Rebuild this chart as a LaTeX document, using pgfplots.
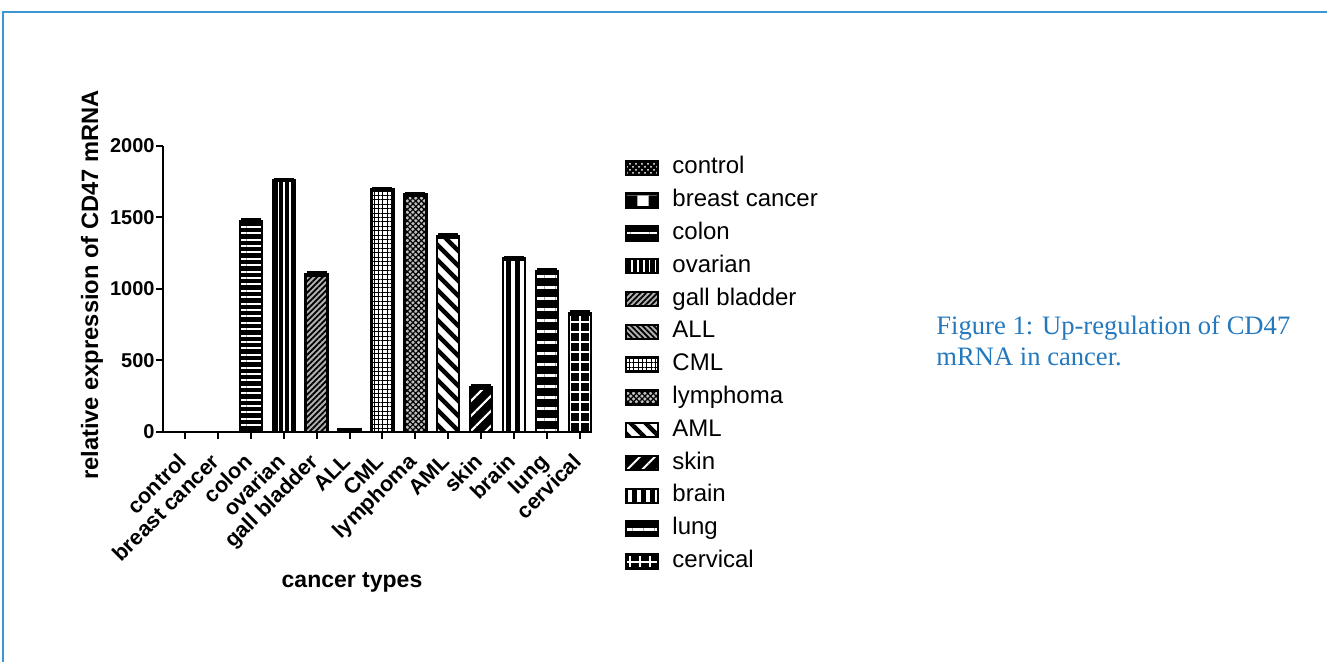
\documentclass[border=0pt]{standalone}
\usepackage{fontspec}
\setmainfont{Liberation Sans}
\newfontfamily\capfont{Liberation Serif}
\usepackage{pgfplots}
\pgfplotsset{compat=1.18}
\usetikzlibrary{patterns,patterns.meta}
\definecolor{capblue}{RGB}{35,120,190}
\definecolor{frameblue}{RGB}{60,150,210}
\tikzset{
  wl/.style={fill=black, postaction={pattern={#1}, pattern color=white}},
  bl/.style={fill=white, postaction={pattern={#1}, pattern color=black}},
}
\pgfplotsset{
  eb/.style={/pgfplots/error bars/y dir=both, /pgfplots/error bars/y explicit,
    /pgfplots/error bars/error bar style={line width=1pt, black},
    /pgfplots/error bars/error mark options={rotate=90, mark size=5pt, line width=1.2pt, black}},
}
\begin{document}
\begin{tikzpicture}
\useasboundingbox (0,0) rectangle (663.5pt,331pt);
\draw[frameblue, line width=1pt] (1.5pt,0) -- (1.5pt,325pt) -- (663.5pt,325pt);
\begin{axis}[
  at={(81.5pt,115pt)}, anchor=south west,
  scale only axis, width=214.5pt, height=143pt,
  xmin=-0.67, xmax=12.37, ymin=0, ymax=2000,
  axis x line*=bottom, axis y line*=left,
  axis line style={-, line width=1pt, black},
  ybar, bar width=11pt, bar shift=0pt,
  ytick={0,500,1000,1500,2000},
  xtick={0,...,12},
  xticklabels={control, breast cancer, colon, ovarian, gall bladder, ALL, CML, lymphoma, AML, skin, brain, lung, cervical},
  tick align=outside, major tick length=3.5pt,
  tick style={line width=1pt, black},
  /pgf/number format/assume math mode=true, /pgf/number format/1000 sep={},
  yticklabel style={font=\bfseries\fontsize{10}{12}\selectfont, inner xsep=0.5pt},
  xticklabel style={font=\bfseries\fontsize{10.8}{12}\selectfont, xshift=1.5pt, yshift=-12pt, rotate=45, anchor=base east, inner sep=0pt},
  xlabel={cancer types}, ylabel={relative expression of CD47 mRNA},
  xlabel style={font=\bfseries\fontsize{11.5}{13}\selectfont, at={(axis description cs:0.4406,-0.542)}, anchor=base},
  ylabel style={font=\bfseries\fontsize{11.85}{13}\selectfont, at={(axis description cs:-0.1655,0.514)}, anchor=center},
  every axis plot/.append style={draw=black, line width=1.2pt},
  legend style={draw=none, fill=none, at={(1.077,0.981)}, anchor=north west,
    inner sep=0pt, outer sep=0pt, font=\fontsize{12}{14}\selectfont,
    row sep=0pt, column sep=6.5pt,
    nodes={inner sep=0pt, minimum height=16.4pt, text height=9pt, text depth=3pt}},
  legend cell align=left,
  legend image code/.code={\draw[#1] (0pt,-3.5pt) rectangle (16pt,3.5pt);},
  legend entries={control, breast cancer, colon, ovarian, gall bladder, ALL, CML, lymphoma, AML, skin, brain, lung, cervical},
]
\addplot[fill=black, postaction={pattern=crosshatch dots, pattern color=white}] coordinates {(0,0)};
\addplot[fill=black, postaction={pattern=checkerboard, pattern color=white}] coordinates {(1,0)};
\addplot[wl={Lines[angle=0,distance=3.2pt,line width=1pt]}, eb] coordinates {(2,1475) +- (0,12)};
\addplot[wl={Lines[angle=90,distance=2.9pt,line width=0.8pt]}, eb] coordinates {(3,1762) +- (0,8)};
\addplot[fill=gray!60, postaction={pattern={Lines[angle=45,distance=2pt,line width=0.9pt]}, pattern color=black}, eb] coordinates {(4,1105) +- (0,10)};
\addplot[fill=gray!60, postaction={pattern={Lines[angle=-45,distance=2pt,line width=0.9pt]}, pattern color=black}, eb] coordinates {(5,18) +- (0,5)};
\addplot[bl={Hatch[angle=0,distance=2.2pt,line width=0.5pt]}, eb] coordinates {(6,1697) +- (0,10)};
\addplot[fill=gray!50, postaction={pattern={Hatch[angle=45,distance=2pt,line width=0.6pt]}, pattern color=black}, eb] coordinates {(7,1660) +- (0,8)};
\addplot[bl={Lines[angle=-45,distance=5.3pt,line width=2.2pt]}, eb] coordinates {(8,1368) +- (0,12)};
\addplot[wl={Lines[angle=45,distance=5.3pt,line width=1pt]}, eb] coordinates {(9,315) +- (0,10)};
\addplot[wl={Lines[angle=90,distance=4.5pt,line width=2.4pt]}, eb] coordinates {(10,1212) +- (0,10)};
\addplot[wl={Lines[angle=0,distance=5.5pt,line width=1.5pt]}, eb] coordinates {(11,1125) +- (0,12)};
\addplot[wl={Hatch[angle=0,distance=5pt,line width=1pt]}, eb] coordinates {(12,830) +- (0,12)};
\end{axis}
\node[anchor=base west, text=capblue, font=\capfont\fontsize{13.3}{15.5}\selectfont, inner sep=0pt] at (468pt,163.5pt) {Figure 1: Up-regulation of CD47};
\node[anchor=base west, text=capblue, font=\capfont\fontsize{13.3}{15.5}\selectfont, inner sep=0pt] at (468pt,148pt) {mRNA in cancer.};
\end{tikzpicture}
\end{document}
